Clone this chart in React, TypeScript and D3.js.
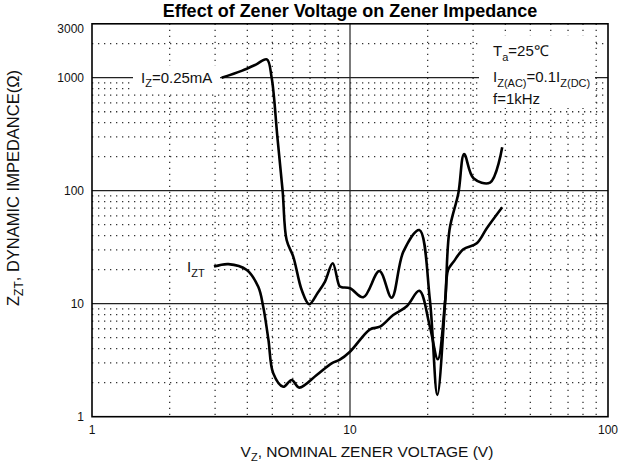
import * as d3 from "d3";

// Iz = 0.25 mA curve (V, ohm)
const lowCurrentV = [3.18, 3.8, 4.3, 4.76, 4.97, 5.23, 5.48, 5.68, 6.03, 6.5, 6.95, 7.5, 8.0, 8.57, 9.1, 9.29, 10, 11.26, 13, 14.5, 16.1, 18.56, 20.4, 21.8, 23.4, 24.3, 26.3, 27.7, 30.1, 34.9, 38.9];
const lowCurrentZ = [1000, 1150, 1300, 1455, 1000, 300, 100, 36.6, 26, 13.2, 9.9, 12.5, 15.7, 22.8, 14.3, 14, 13.7, 11.4, 19.5, 11.3, 28.9, 44.9, 10.8, 1.56, 10.8, 44.9, 94.8, 211, 129, 118, 242];

// Iz = Izt curve
const testCurrentV = [2.97, 3.38, 3.98, 4.41, 4.61, 4.83, 5.04, 5.51, 5.94, 6.36, 7.43, 8.49, 9.1, 10, 11.96, 13.06, 14.7, 16.6, 18.56, 20.4, 21.9, 23.4, 24.0, 25.2, 27.5, 31, 33.9, 38.9];
const testCurrentZ = [21.3, 22.4, 19.9, 14.1, 9.4, 4.77, 2.42, 1.84, 2.11, 1.81, 2.34, 2.97, 3.18, 3.76, 5.93, 6.26, 7.94, 9.5, 13, 6.26, 3.22, 10.8, 19.9, 23.5, 30.3, 34.2, 46.5, 71.3];

const xTicks = [1, 10, 100];
const yTicks = [1, 10, 100, 1000, 3000];
const xMajor = [10];
const yMajor = [10, 100, 1000];
const xMinor = [2, 3, 4, 5, 6, 7, 8, 9, 20, 30, 40, 50, 60, 70, 80, 90];
const yMinor = [2, 3, 4, 5, 6, 7, 8, 9, 20, 30, 40, 50, 60, 70, 80, 90, 200, 300, 400, 500, 600, 700, 800, 900, 2000];

const W = 621;
const H = 472;
const plot = { left: 92, right: 608, top: 23.8, bottom: 416.7 };
const font = "'Liberation Sans', Arial, sans-serif";

export default function App() {
  const x = d3.scaleLog().domain([1, 100]).range([plot.left, plot.right]);
  const y = d3.scaleLog().domain([1, 3000]).range([plot.bottom, plot.top]);

  const line = d3
    .line<[number, number]>()
    .x((d) => x(d[0]))
    .y((d) => y(d[1]))
    .curve(d3.curveCatmullRom.alpha(0.5));

  const lowPts = lowCurrentV.map((v, i) => [v, lowCurrentZ[i]] as [number, number]);
  const testPts = testCurrentV.map((v, i) => [v, testCurrentZ[i]] as [number, number]);

  return (
    <div style={{ position: "fixed", left: 0, top: 0 }}>
      <svg width={W} height={H} style={{ display: "block", background: "#fff" }} fontFamily={font}>
        <text x={350} y={17} textAnchor="middle" fontSize={18} fontWeight="bold" fill="#000">
          Effect of Zener Voltage on Zener Impedance
        </text>

        {/* minor grid */}
        {xMinor.map((v) => (
          <line key={"xm" + v} x1={x(v)} x2={x(v)} y1={plot.top} y2={plot.bottom}
            stroke="#333" strokeWidth={1.3} strokeDasharray="1.3 4.7" />
        ))}
        {yMinor.map((v) => (
          <line key={"ym" + v} x1={plot.left} x2={plot.right} y1={y(v)} y2={y(v)}
            stroke="#333" strokeWidth={1.3} strokeDasharray="1.3 4.7" />
        ))}
        {/* major grid */}
        {xMajor.map((v) => (
          <line key={"xM" + v} x1={x(v)} x2={x(v)} y1={plot.top} y2={plot.bottom} stroke="#222" strokeWidth={1.2} />
        ))}
        {yMajor.map((v) => (
          <line key={"yM" + v} x1={plot.left} x2={plot.right} y1={y(v)} y2={y(v)} stroke="#222" strokeWidth={1.2} />
        ))}
        <rect x={plot.left} y={plot.top} width={plot.right - plot.left} height={plot.bottom - plot.top}
          fill="none" stroke="#000" strokeWidth={1.6} />

        {/* label backgrounds */}
        <rect x={133} y={66} width={87} height={25} fill="#fff" />
        <rect x={479} y={36} width={116} height={72} fill="#fff" />
        <rect x={180} y={258} width={33} height={25} fill="#fff" />

        <path d={line(lowPts) || ""} fill="none" stroke="#000" strokeWidth={2.6} strokeLinejoin="round" />
        <path d={line(testPts) || ""} fill="none" stroke="#000" strokeWidth={2.6} strokeLinejoin="round" />

        {/* curve labels */}
        <text x={141} y={83} fontSize={15} fill="#111">
          I<tspan dy={4} fontSize={11}>Z</tspan><tspan dy={-4}>=0.25mA</tspan>
        </text>
        <text x={187} y={272} fontSize={15} fill="#111">
          I<tspan dy={5} fontSize={11}>ZT</tspan>
        </text>

        {/* conditions */}
        <text x={493} y={56} fontSize={15} fill="#111">
          T<tspan dy={5} fontSize={11}>a</tspan><tspan dy={-5}>=25℃</tspan>
        </text>
        <text x={493} y={82} fontSize={15} fill="#111">
          I<tspan dy={5} fontSize={11}>Z(AC)</tspan><tspan dy={-5}>=0.1I</tspan><tspan dy={5} fontSize={11}>Z(DC)</tspan>
        </text>
        <text x={493} y={104} fontSize={15} fill="#111">f=1kHz</text>

        {/* axes tick labels */}
        {yTicks.map((v) => (
          <text key={"yt" + v} x={84} y={y(v) + (v === 3000 ? 9 : 4.5)} textAnchor="end" fontSize={12} fill="#111">
            {v}
          </text>
        ))}
        {xTicks.map((v) => (
          <text key={"xt" + v} x={x(v)} y={434} textAnchor="middle" fontSize={12} fill="#111">
            {v}
          </text>
        ))}

        <text x={367} y={457} textAnchor="middle" fontSize={15.5} fill="#111">
          V<tspan dy={4} fontSize={11}>Z</tspan><tspan dy={-4}>, NOMINAL ZENER VOLTAGE (V)</tspan>
        </text>
        <text transform="translate(19,188) rotate(-90)" textAnchor="middle" fontSize={16.5} fill="#111">
          Z<tspan dy={4} fontSize={12}>ZT</tspan><tspan dy={-4}>, DYNAMIC IMPEDANCE(Ω)</tspan>
        </text>
      </svg>
    </div>
  );
}
